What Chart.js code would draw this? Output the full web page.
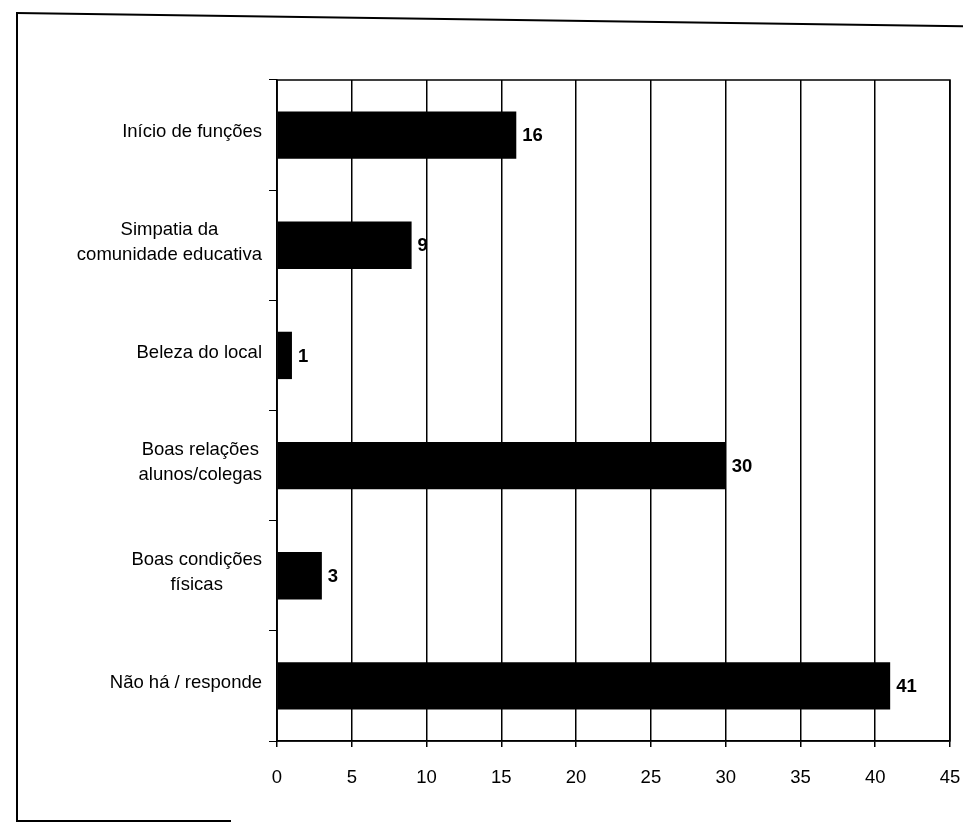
<!DOCTYPE html>
<html>
<head>
<meta charset="utf-8">
<script src="https://cdn.jsdelivr.net/npm/chart.js@4.4.0/dist/chart.umd.min.js"></script>
<style>
  html, body { margin: 0; padding: 0; background: #fff; }
  #wrap { position: relative; width: 963px; height: 824px; overflow: hidden; }
  #chart { position: absolute; left: 0; top: 0; }
  .frame { position: absolute; background: #000; }
</style>
</head>
<body>
<div id="wrap">
  <canvas id="chart" width="963" height="824"></canvas>
  <div class="frame" style="left:16px;top:12px;width:960px;height:2px;transform-origin:0 0;transform:rotate(0.8deg);"></div>
  <div class="frame" style="left:16px;top:12px;width:2px;height:810px;"></div>
  <div class="frame" style="left:16px;top:820px;width:215px;height:2px;"></div>
</div>
<script>
const categories = [
    ["Início de funções"],
    ["Simpatia da", "comunidade educativa"],
    ["Beleza do local"],
    ["Boas relações", "alunos/colegas"],
    ["Boas condições", "físicas"],
    ["Não há / responde"]
];
const values = [16, 9, 1, 30, 3, 41];
const xTicks = [0, 5, 10, 15, 20, 25, 30, 35, 40, 45];

const FONT = "'Liberation Sans', Arial, sans-serif";

// category labels: block right-aligned to the axis, lines centred in the block
const yLabels = {
    id: "yLabels",
    afterDraw(chart) {
        const ctx = chart.ctx;
        const y = chart.scales.y;
        ctx.save();
        ctx.font = "18.5px " + FONT;
        ctx.fillStyle = "#000";
        ctx.textBaseline = "middle";
        ctx.textAlign = "center";
        const right = y.right - 15;
        const lh = 25;
        categories.forEach((lines, i) => {
            const py = y.getPixelForTick(i) - 3;
            const w = Math.max(...lines.map(l => ctx.measureText(l).width));
            const cx = right - w / 2;
            lines.forEach((l, k) => {
                ctx.fillText(l, cx, py + (k - (lines.length - 1) / 2) * lh);
            });
        });
        ctx.restore();
    }
};

const valueLabels = {
    id: "valueLabels",
    afterDatasetsDraw(chart) {
        const ctx = chart.ctx;
        const meta = chart.getDatasetMeta(0);
        ctx.save();
        ctx.font = "bold 18.5px " + FONT;
        ctx.fillStyle = "#000";
        ctx.textAlign = "left";
        ctx.textBaseline = "middle";
        meta.data.forEach((bar, i) => {
            ctx.fillText(String(values[i]), bar.x + 6, bar.y + 1);
        });
        ctx.restore();
    }
};

new Chart(document.getElementById("chart").getContext("2d"), {
    type: "bar",
    data: {
        labels: categories,
        datasets: [{
            data: values,
            backgroundColor: "#000",
            borderWidth: 0,
            barPercentage: 0.43,
            categoryPercentage: 1
        }]
    },
    options: {
        indexAxis: "y",
        responsive: false,
        animation: false,
        layout: {padding: {top: 80, right: 13, left: 0, bottom: 0}},
        plugins: {
            legend: {display: false},
            tooltip: {enabled: false}
        },
        scales: {
            x: {
                min: 0,
                max: 45,
                afterBuildTicks: s => { s.ticks = xTicks.map(v => ({value: v})); },
                afterFit: s => { s.height = 83; s.paddingLeft = 0; s.paddingRight = 0; },
                border: {color: "#000", width: 1.5},
                grid: {color: "#000", lineWidth: 1.5, tickLength: 6, tickColor: "#000"},
                ticks: {
                    color: "#000",
                    font: {family: FONT, size: 18.5},
                    padding: 20,
                    maxRotation: 0
                }
            },
            y: {
                afterFit: s => { s.width = 277; },
                border: {color: "#000", width: 1.5},
                grid: {drawOnChartArea: false, color: "#000", tickLength: 8, offset: true},
                ticks: {color: "rgba(0,0,0,0)", font: {family: FONT, size: 17}}
            }
        }
    },
    plugins: [yLabels, valueLabels, {
        id: "plotBorder",
        afterDraw(chart) {
            const a = chart.chartArea, ctx = chart.ctx;
            ctx.save();
            ctx.strokeStyle = "#000";
            ctx.lineWidth = 1.5;
            ctx.strokeRect(a.left, a.top, a.right - a.left, a.bottom - a.top);
            ctx.restore();
        }
    }]
});
</script>
</body>
</html>
